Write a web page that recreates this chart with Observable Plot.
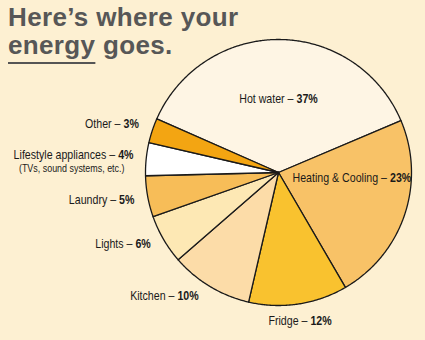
<!DOCTYPE html>
<html>
<head>
<meta charset="utf-8">
<script src="https://cdn.jsdelivr.net/npm/d3@7"></script>
<script src="https://cdn.jsdelivr.net/npm/@observablehq/plot@0.6"></script>
<style>
  html, body { margin: 0; padding: 0; background: #FDF0D2; }
  #wrap { position: relative; width: 425px; height: 340px; overflow: hidden; }
  #title {
    position: absolute; left: 8px; top: 3px; margin: 0;
    font-family: "Liberation Sans", Arial, sans-serif; font-weight: bold;
    font-size: 26px; line-height: 28px; color: #575757; letter-spacing: 0.35px;
  }
  #title .u { text-decoration: underline; text-decoration-thickness: 1.5px; text-underline-offset: 8px; text-decoration-color: #555; }
  #chart { position: absolute; left: 0; top: 0; }
</style>
</head>
<body>
<div id="wrap">
  <div id="chart"></div>
  <div id="title">Here’s where your<br><span class="u">energy</span> goes.</div>
</div>
<script>
// ---- data ----
const categories = ["Hot water", "Heating & Cooling", "Fridge", "Kitchen", "Lights", "Laundry", "Lifestyle appliances", "Other"];
const shares = [37, 23, 12, 10, 6, 5, 4, 3];
const sliceColors = ["#FEF5E4", "#F8C267", "#F9C22F", "#FCDCA8", "#FDE8B4", "#F7BD58", "#FFFFFF", "#F3A512"];
const subNote = "(TVs, sound systems, etc.)";

// ---- label placement (pie-radius units) ----
const labelPlace = {
  "Hot water": {x: 0, y: 0.556, anchor: "middle"},
  "Heating & Cooling": {x: 0.105, y: -0.045, anchor: "start"},
  "Fridge": {x: 0.162, y: -1.12, anchor: "middle"},
  "Kitchen": {x: -0.60, y: -0.93, anchor: "end"},
  "Lights": {x: -0.96, y: -0.534, anchor: "end"},
  "Laundry": {x: -1.083, y: -0.203, anchor: "end"},
  "Lifestyle appliances": {x: -1.09, y: 0.128, anchor: "end"},
  "Other": {x: -1.05, y: 0.361, anchor: "end"}
};

const rows = categories.map((c, i) => ({category: c, share: shares[i]}));
const startDeg = -66.2;
const arcs = d3.pie().sort(null).value(d => d.share)
  .startAngle(startDeg * Math.PI / 180)
  .endAngle((startDeg + 360) * Math.PI / 180)(rows);

// polygon outline of each slice (center -> arc -> center)
const pts = [];
for (const a of arcs) {
  const cat = a.data.category;
  pts.push({category: cat, x: 0, y: 0});
  const n = Math.max(2, Math.ceil((a.endAngle - a.startAngle) / (Math.PI / 360)));
  for (let k = 0; k <= n; k++) {
    const t = a.startAngle + (a.endAngle - a.startAngle) * k / n;
    pts.push({category: cat, x: Math.sin(t), y: Math.cos(t)});
  }
  pts.push({category: cat, x: 0, y: 0});
}

const labels = rows.map(r => ({
  name: `${r.category} –`,
  pct: `${r.share}%`,
  ...labelPlace[r.category]
}));

const font = '"Liberation Sans", Arial, sans-serif';
const SQ = 0.85;   // horizontal squeeze for the condensed face
const GAP = 3;

const chart = Plot.plot({
  width: 425, height: 340,
  margin: 0,
  x: {domain: [-1, 1], range: [145, 411], axis: null},
  y: {domain: [-1, 1], range: [305, 39], axis: null},
  color: {domain: categories, range: sliceColors},
  style: {background: "#FDF0D2", overflow: "visible"},
  marks: [
    Plot.line(pts, {x: "x", y: "y", z: "category", fill: "category", stroke: "#1a1a1a",
      strokeWidth: 1.3, strokeLinejoin: "round", curve: "linear"}),
    Plot.text(labels, {x: "x", y: "y", text: "name", textAnchor: "end",
      fontSize: 12.5, fontFamily: font, fill: "#1a1a1a"}),
    Plot.text(labels, {x: "x", y: "y", text: "pct", textAnchor: "start",
      fontSize: 12.5, fontFamily: font, fontWeight: "bold", fill: "#1a1a1a"}),
    Plot.text([{text: subNote, x: -1.158, y: 0.03}], {
      x: "x", y: "y", text: "text", textAnchor: "end",
      fontSize: 10.5, fontFamily: font, fill: "#1a1a1a"
    })
  ]
});
document.getElementById("chart").appendChild(chart);

const svg = d3.select(chart);

// place a text element at (x + dx, y), squeezed horizontally about its anchor
function place(el, dx) {
  const t = el.getAttribute("transform");
  const m = t && t.match(/translate\(\s*([-\d.e]+)[ ,]+([-\d.e]+)\s*\)/);
  if (m) {
    el.setAttribute("transform", t.replace(m[0], `translate(${(+m[1] + dx).toFixed(2)},${m[2]}) scale(${SQ},1)`));
  } else {
    const x = +(el.getAttribute("x") || 0), y = +(el.getAttribute("y") || 0);
    el.removeAttribute("x");
    el.removeAttribute("y");
    el.setAttribute("transform", `translate(${(x + dx).toFixed(2)},${y.toFixed(2)}) scale(${SQ},1)`);
  }
}

svg.selectAll("text").each(function () { this.__w = this.getComputedTextLength() * SQ; });

const groups = svg.selectAll('g[aria-label="text"]').nodes();
const names = groups[0] ? d3.select(groups[0]).selectAll("text").nodes() : [];
const pcts = groups[1] ? d3.select(groups[1]).selectAll("text").nodes() : [];
labels.forEach((l, i) => {
  if (!names[i] || !pcts[i]) return;
  const wn = names[i].__w, wp = pcts[i].__w;
  let joint;
  if (l.anchor === "end") joint = -wp - GAP;
  else if (l.anchor === "start") joint = wn;
  else joint = -(wn + GAP + wp) / 2 + wn;
  place(names[i], joint);
  place(pcts[i], joint + GAP);
});
if (groups[2]) d3.select(groups[2]).selectAll("text").each(function () { place(this, 0); });
</script>
</body>
</html>
